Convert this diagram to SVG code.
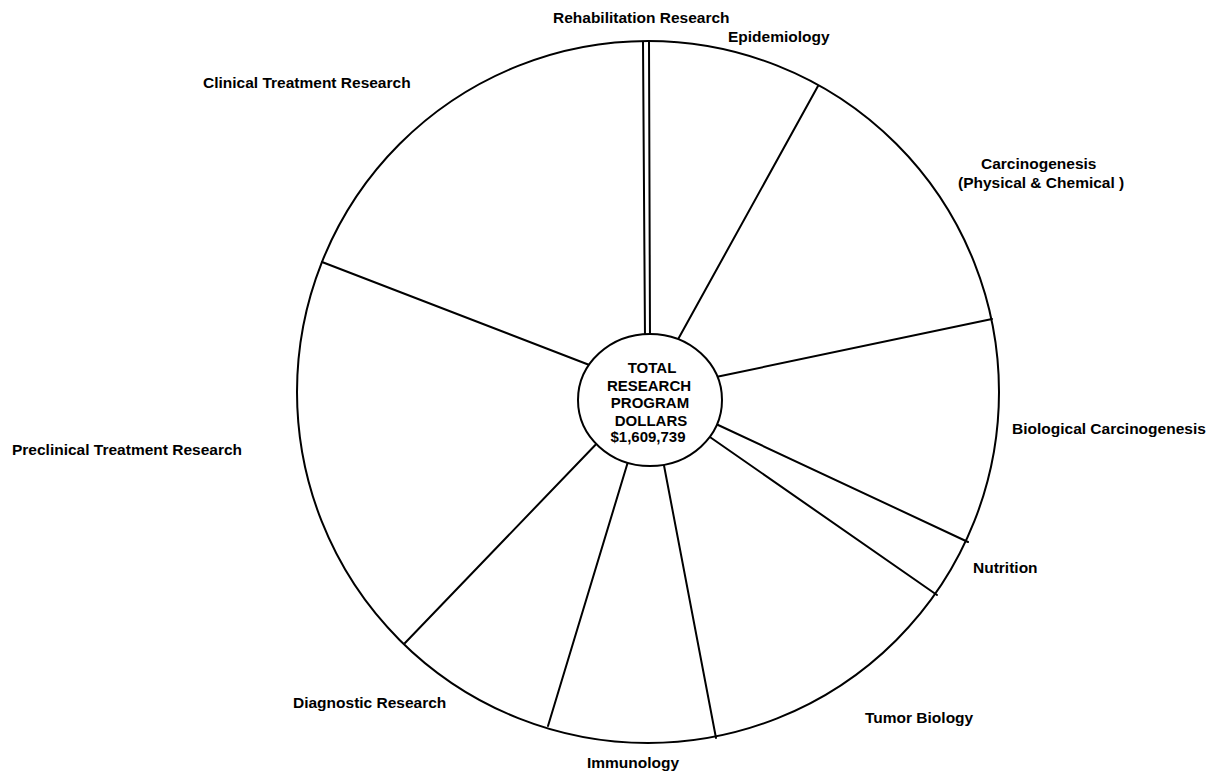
<svg xmlns="http://www.w3.org/2000/svg" width="1214" height="772" viewBox="0 0 1214 772">
  <style>
    .label { font-family: "Liberation Sans", Arial, sans-serif; font-weight: bold; font-size: 15.5px; fill: #000; }
    .hub { font-family: "Liberation Sans", Arial, sans-serif; font-weight: bold; font-size: 15px; fill: #000; text-anchor: middle; }
    .edge { stroke: #000; stroke-width: 2; fill: none; stroke-linecap: round; }
  </style>
  <rect width="1214" height="772" fill="#fff"/>

  <!-- outer pie outline -->
  <g id="pie">
    <circle cx="648" cy="392" r="351" fill="none" stroke="#000" stroke-width="2"/>
  </g>

  <!-- slice boundaries -->
  <g id="connectors">
    <line class="edge" x1="643" y1="42" x2="645" y2="340" stroke-width="1.5"/>
    <line class="edge" x1="649" y1="42" x2="650" y2="340" stroke-width="2.5"/>
    <line class="edge" x1="818" y1="86" x2="676" y2="343"/>
    <line class="edge" x1="992" y1="319" x2="716" y2="377"/>
    <line class="edge" x1="968" y1="542" x2="716" y2="424"/>
    <line class="edge" x1="937" y1="595" x2="707" y2="435"/>
    <line class="edge" x1="716" y1="738" x2="662" y2="455"/>
    <line class="edge" x1="548" y1="726" x2="630" y2="455"/>
    <line class="edge" x1="405" y1="643" x2="603" y2="437"/>
    <line class="edge" x1="322" y1="262" x2="592" y2="366"/>
  </g>

  <!-- centre hub -->
  <g id="hub">
    <ellipse cx="650" cy="400" rx="72" ry="66" fill="#fff" stroke="#000" stroke-width="2"/>
    <text class="hub" x="652" y="373">TOTAL</text>
    <text class="hub" x="649" y="391">RESEARCH</text>
    <text class="hub" x="650" y="408">PROGRAM</text>
    <text class="hub" x="651" y="426">DOLLARS</text>
    <text class="hub" x="648" y="442">$1,609,739</text>
  </g>

  <!-- slice labels -->
  <g id="rehabilitation"><text class="label" x="553" y="23">Rehabilitation Research</text></g>
  <g id="epidemiology"><text class="label" x="728" y="42">Epidemiology</text></g>
  <g id="carcinogenesis">
    <text class="label" x="981" y="169">Carcinogenesis</text>
    <text class="label" x="958" y="188">(Physical &amp; Chemical )</text>
  </g>
  <g id="biological"><text class="label" x="1012" y="434">Biological Carcinogenesis</text></g>
  <g id="nutrition"><text class="label" x="973" y="573">Nutrition</text></g>
  <g id="tumor"><text class="label" x="865" y="723">Tumor Biology</text></g>
  <g id="immunology"><text class="label" x="587" y="768">Immunology</text></g>
  <g id="diagnostic"><text class="label" x="293" y="708">Diagnostic Research</text></g>
  <g id="preclinical"><text class="label" x="12" y="455">Preclinical Treatment Research</text></g>
  <g id="clinical"><text class="label" x="203" y="88">Clinical Treatment Research</text></g>
</svg>
